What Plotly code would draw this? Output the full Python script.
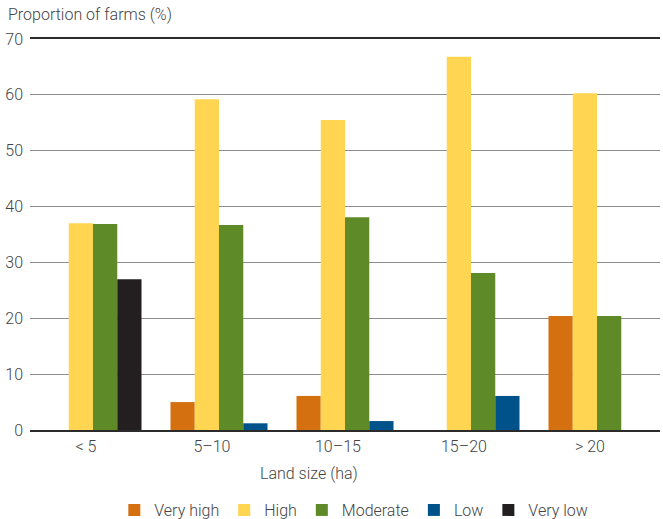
import plotly.graph_objects as go

categories = ["< 5", "5–10", "10–15", "15–20", "> 20"]
very_high = [0, 5.0, 6.1, 0, 20.4]
high = [37.0, 59.2, 55.5, 66.8, 60.3]
moderate = [36.9, 36.7, 38.1, 28.1, 20.4]
low = [0, 1.2, 1.6, 6.1, 0]
very_low = [27.0, 0, 0, 0, 0]
y_ticks = [0, 10, 20, 30, 40, 50, 60, 70]

series = [
    ("Very high", very_high, "#D4700F", "a"),
    ("High", high, "#FFD551", "b"),
    ("Moderate", moderate, "#5E8A28", "c"),
    ("Low", low, "#00538A", "d"),
    ("Very low", very_low, "#231F20", "d"),
]

x = list(range(len(categories)))
fig = go.Figure()
for name, vals, color, grp in series:
    fig.add_trace(go.Bar(x=x, y=vals, name=name, marker=dict(color=color, line=dict(width=0)),
                         offsetgroup=grp))

font = "Roboto, sans-serif"
txt = "#444444"
fig.update_layout(
    width=663, height=519,
    margin=dict(l=30, r=3, t=39, b=89, autoexpand=False),
    paper_bgcolor="white", plot_bgcolor="white",
    barmode="group", bargap=0.23, bargroupgap=0,
    font=dict(family=font, size=16, color=txt, weight=300),
    showlegend=True,
    legend=dict(orientation="h", x=0.514, xanchor="center", yref="container", y=0.0173,
                yanchor="middle", font=dict(size=16, color=txt, weight=300),
                itemwidth=30, tracegroupgap=0),
    xaxis=dict(range=[-0.5, 4.5], tickmode="array", tickvals=[i - 0.056 for i in x],
               ticktext=categories, showgrid=False, showline=True, mirror=True,
               linecolor="#2b2b2b", linewidth=2, ticks="", zeroline=False,
               automargin=False, ticklabelstandoff=1,
               tickfont=dict(size=16, color=txt, weight=300)),
    yaxis=dict(range=[0, 70], tickvals=y_ticks, showgrid=True, gridcolor="#8c8c8c",
               gridwidth=1, zeroline=False, showline=False, ticks="", automargin=False,
               tickfont=dict(size=16, color=txt, weight=300), ticklabelstandoff=6),
    annotations=[
        dict(text="Proportion of farms (%)", xref="paper", yref="paper", x=-0.038, y=1.0,
             xanchor="left", yanchor="middle", yshift=25, showarrow=False,
             font=dict(size=16, color=txt, weight=300)),
        dict(text="Land size (ha)", xref="paper", yref="paper", x=0.443, y=0,
             xanchor="center", yanchor="middle", yshift=-43, showarrow=False,
             font=dict(size=16, color=txt, weight=300)),
    ],
)

fig.write_html(
    "out.html",
    config={"displayModeBar": False},
    post_script="document.body.style.margin='0px';document.body.style.overflow='hidden';",
)
